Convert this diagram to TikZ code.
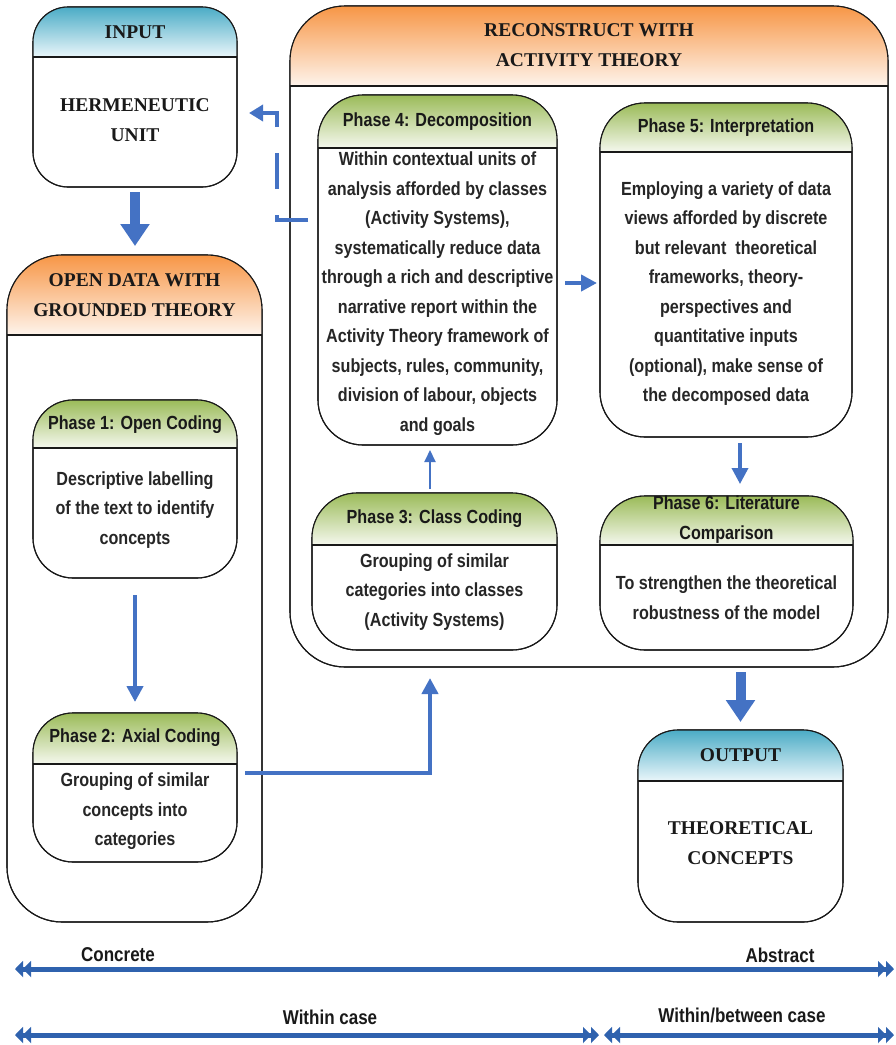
\documentclass[tikz,border=0pt]{standalone}
\usepackage{fontspec}
\setmainfont{Liberation Serif}
\newfontfamily\narrowsans[FakeStretch=0.85]{Liberation Sans}
\usetikzlibrary{arrows.meta,calc}

\definecolor{tealtop}{HTML}{4BACC6}
\definecolor{tealbot}{HTML}{EAF6FA}
\definecolor{orangetop}{HTML}{F79646}
\definecolor{orangebot}{HTML}{FEF4EC}
\definecolor{greentop}{HTML}{9BBB59}
\definecolor{greenbot}{HTML}{F5F8EE}
\definecolor{flowblue}{HTML}{4472C4}
\definecolor{scaleblue}{HTML}{2F62AE}
\definecolor{bodytext}{HTML}{262626}

\tikzset{
  box/.style={draw=black!90, line width=1.1pt, fill=white, rounded corners=#1,
    inner sep=0pt, outer sep=0pt},
  box/.default=40,
  outline/.style={draw=black!90, line width=1.1pt},
  serifhead/.style={font=\bfseries\fontsize{19.5}{30}\selectfont, align=center, text=black!90},
  phasehead/.style={font=\narrowsans\bfseries\fontsize{19}{30}\selectfont, align=center, text=black!90},
  phasebody/.style={font=\narrowsans\bfseries\fontsize{19}{29.5}\selectfont, align=center, text=bodytext},
  scalelabel/.style={font=\narrowsans\bfseries\fontsize{20}{24}\selectfont, text=black!90},
  bigarrow/.style={draw=flowblue, line width=10pt, -{Triangle[width=28pt,length=22pt]}},
  midarrow/.style={draw=flowblue, line width=4pt, -{Triangle[width=16pt,length=16pt]}},
  thinarrow/.style={draw=flowblue, line width=2pt, -{Triangle[width=11pt,length=12pt]}},
  backarrow/.style={draw=flowblue, line width=4pt, dash pattern=on 36pt off 26pt,
    -{Triangle[width=16pt,length=14pt]}},
  scaletip/.style={Triangle[width=16pt,length=8pt]},
  scalearrow/.style={draw=scaleblue, line width=5pt,
    {Triangle[width=16pt,length=8pt]Triangle[width=16pt,length=8pt]}-{Triangle[width=16pt,length=8pt]Triangle[width=16pt,length=8pt]}},
}

% rounded box with a shaded header band:
% #1 name, #2 corner radius, #3 centre, #4 width, #5 height, #6 header height,
% #7 header top colour, #8 header bottom colour
\newcommand\stagebox[8]{%
  \node[box=#2, minimum width=#4, minimum height=#5] (#1) at (#3) {};
  \begin{scope}
    \clip[rounded corners=#2] (#1.north west) rectangle (#1.south east);
    \shade[top color=#7, bottom color=#8]
      (#1.north west) rectangle ([yshift=-#6pt]#1.north east);
  \end{scope}
  \draw[outline] ([yshift=-#6pt]#1.north west) -- ([yshift=-#6pt]#1.north east);
  \draw[outline, rounded corners=#2] (#1.north west) rectangle (#1.south east);
}

\begin{document}
\begin{tikzpicture}[x=1pt,y=-1pt]
\useasboundingbox (0,0) rectangle (896,1045);

% ---- outer stages ----
\stagebox{input}{35}{135,97}{204}{180}{50}{tealtop}{tealbot}
\stagebox{opendata}{55}{134.5,588.5}{255}{667}{80}{orangetop}{orangebot}
\stagebox{recon}{55}{589,336.5}{598}{661}{80}{orangetop}{orangebot}
\stagebox{output}{40}{740.5,826}{205}{192}{51}{tealtop}{tealbot}

% ---- phases ----
\stagebox{phase1}{40}{135,489}{204}{178}{48}{greentop}{greenbot}
\stagebox{phase2}{40}{135,787.5}{204}{149}{51}{greentop}{greenbot}
\stagebox{phase3}{45}{434.5,571.5}{245}{157}{52}{greentop}{greenbot}
\stagebox{phase4}{45}{437.5,270}{239}{350}{53}{greentop}{greenbot}
\stagebox{phase5}{45}{726,270}{252}{334}{49}{greentop}{greenbot}
\stagebox{phase6}{45}{726.5,573}{253}{154}{49}{greentop}{greenbot}

% ---- texts of the stages ----
\node[serifhead] (inputhead) at (135,32) {INPUT};
\node[serifhead] (inputbody) at (135,120) {HERMENEUTIC\\UNIT};
\node[serifhead] (openhead) at (134.5,295) {OPEN DATA WITH\\GROUNDED THEORY};
\node[serifhead] (reconhead) at (589,45) {RECONSTRUCT WITH\\ACTIVITY THEORY};
\node[serifhead] (outputhead) at (740.5,755) {OUTPUT};
\node[serifhead] (outputbody) at (740.5,843.5) {THEORETICAL\\CONCEPTS};

% ---- texts of the phases ----
\node[phasehead] (p1head) at (135,425) {Phase 1: Open Coding};
\node[phasebody] (p1body) at (135,510) {Descriptive labelling\\of the text to identify\\concepts};
\node[phasehead] (p2head) at (135,738) {Phase 2: Axial Coding};
\node[phasebody] (p2body) at (135,811.5) {Grouping of similar\\concepts into\\categories};
\node[phasehead] (p3head) at (434.5,519) {Phase 3: Class Coding};
\node[phasebody] (p3body) at (434.5,592) {Grouping of similar\\categories into classes\\(Activity Systems)};
\node[phasehead] (p4head) at (437.5,122) {Phase 4: Decomposition};
\node[phasebody] (p4body) at (437.5,293.5) {Within contextual units of\\analysis afforded by classes\\(Activity Systems),\\systematically reduce data\\through a rich and descriptive\\narrative report within the\\Activity Theory framework of\\subjects, rules, community,\\division of labour, objects\\and goals};
\node[phasehead] (p5head) at (726,128) {Phase 5: Interpretation};
\node[phasebody] (p5body) at (726,293.5) {Employing a variety of data\\views afforded by discrete\\but relevant\ \ theoretical\\frameworks, theory-\\perspectives and\\quantitative inputs\\(optional), make sense of\\the decomposed data};
\node[phasehead] (p6head) at (726.5,520) {Phase 6: Literature\\Comparison};
\node[phasebody] (p6body) at (726.5,597.5) {To strengthen the theoretical\\robustness of the model};

% ---- flow between stages and phases ----
\draw[bigarrow, shorten <=5pt, shorten >=9pt] (input.south) -- (input.south |- opendata.north);
\draw[midarrow, shorten <=17pt, shorten >=11pt] (phase1.south) -- (phase1.south |- phase2.north);
\coordinate (p3in) at ($(phase3.south |- recon.south)+(-4.5,11)$);
\draw[midarrow, shorten <=8pt] ([yshift=14.5pt]phase2.east) -| (p3in);
\draw[thinarrow, shorten <=4pt, shorten >=5pt] ([xshift=-4.5pt]phase3.north) -- ([xshift=-4.5pt]phase3.north |- phase4.south);
\draw[midarrow, shorten <=8pt, shorten >=3pt] ([yshift=-13pt]phase4.east) -- ([yshift=-13pt]phase4.east -| phase5.west);
\draw[midarrow, line width=3.5pt, shorten <=6pt, shorten >=12pt] ([xshift=14pt]phase5.south) -- ([xshift=14pt]phase5.south |- phase6.north);
\draw[bigarrow, shorten <=5pt, shorten >=8pt] (output.north |- recon.south) -- (output.north);

% ---- feedback from decomposition to the hermeneutic unit ----
\coordinate (fbstart) at (308,220);
\coordinate (fbknee) at (277,113);
\draw[backarrow] (fbstart) -| (fbknee) -- ([xshift=12pt]input.east |- fbknee);

% ---- scales along the bottom ----
\coordinate (s1l) at (15,969);
\coordinate (s1r) at (894,969);
\coordinate (s2l) at (15,1035);
\coordinate (s2m1) at (599,1035);
\coordinate (s2m2) at (604,1035);
\coordinate (s2r) at (894,1035);
\draw[scalearrow] (s1l) -- (s1r);
\draw[scalearrow] (s2l) -- (s2m1);
\draw[scalearrow] (s2m2) -- (s2r);
\node[scalelabel] (lconcrete) at (118,955) {Concrete};
\node[scalelabel] (labstract) at (780,955) {Abstract};
\node[scalelabel] (lwithin) at (330,1017) {Within case};
\node[scalelabel] (lbetween) at (742,1015) {Within/between case};
\end{tikzpicture}
\end{document}
